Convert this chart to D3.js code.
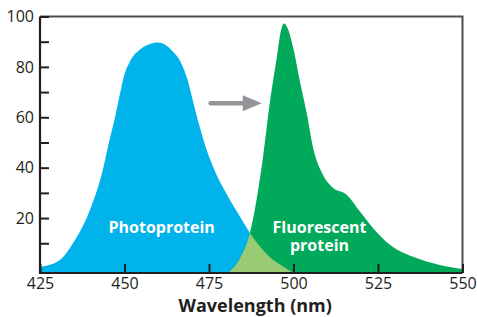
<!DOCTYPE html>
<html>
<head>
<meta charset="utf-8">
<script src="https://cdn.jsdelivr.net/npm/d3@7"></script>
<style>
  body { margin: 0; background: #fff; }
  text { font-family: "Open Sans", sans-serif; fill: #231f20; }
</style>
</head>
<body>
<div id="chart"></div>
<script>
// Emission spectra: photoprotein (blue) and fluorescent protein (green)
var wavelengths = [425, 430.9, 434.8, 439.8, 443.6, 445.4, 447.2, 448.7, 449.6, 451.6, 454.6, 457.3, 459.9, 462, 464.3, 467, 468.8, 470.3, 472.3, 473.8, 476.2, 480.3, 484.2, 487.1, 490, 493, 496.5, 500];
var photoprotein = [0.6, 3.4, 10.1, 23.3, 39.2, 50, 60, 69.5, 75, 82.1, 86.9, 89, 89.7, 88.8, 86.1, 80.9, 74.2, 66.2, 55.9, 49.1, 40.4, 29.4, 20.5, 14.1, 8.8, 4.5, 1.2, -1.8];

var gfpWavelengths = [480.6, 484.2, 487.1, 489.2, 491, 493, 495.1, 496.3, 497.2, 498.2, 499.9, 501.9, 504, 505.8, 508.7, 511.7, 515.8, 519.7, 523.5, 528.6, 535.4, 543.3, 550];
var fluorescent = [-1.8, 4.2, 14.1, 28.4, 44.3, 65.8, 84.1, 94.5, 97.2, 95.5, 87.7, 74.2, 61, 47.9, 37.2, 32, 29.2, 22.5, 16.1, 9.3, 4.6, 1.4, -0.2];

var xTicks = [425, 450, 475, 500, 525, 550];
var yTicks = [10, 20, 30, 40, 50, 60, 70, 80, 90, 100];
var yBase = -1.8;

var width = 477, height = 317;
var plotLeft = 40, plotRight = 462.5, plotTop = 16.5, plotBottom = 273;

var x = d3.scaleLinear().domain([425, 550]).range([plotLeft, plotRight]);
var y = d3.scaleLinear().domain([yBase, 100]).range([plotBottom, plotTop]);

var svg = d3.select("#chart").append("svg")
  .attr("width", width)
  .attr("height", height);

var blueData = wavelengths.map(function(w, i) { return {w: w, v: photoprotein[i]}; });
var greenData = gfpWavelengths.map(function(w, i) { return {w: w, v: fluorescent[i]}; });

var area = d3.area()
  .curve(d3.curveMonotoneX)
  .x(function(d) { return x(d.w); })
  .y0(y(yBase))
  .y1(function(d) { return y(Math.max(d.v, yBase)); });

// clip to the green spectrum, for the overlap
svg.append("clipPath").attr("id", "greenClip")
  .append("path").attr("d", area(greenData));

svg.append("path").attr("d", area(blueData)).attr("fill", "#00b3ea");
svg.append("path").attr("d", area(greenData)).attr("fill", "#00aa5a");
svg.append("path").attr("d", area(blueData))
  .attr("fill", "#98cb74")
  .attr("clip-path", "url(#greenClip)");

// arrow
var arrowY = y(65.6);
svg.append("line")
  .attr("x1", x(475.5)).attr("x2", x(486))
  .attr("y1", arrowY).attr("y2", arrowY)
  .attr("stroke", "#939598").attr("stroke-width", 4.5)
  .attr("stroke-linecap", "round");
svg.append("path")
  .attr("d", "M" + x(485) + "," + (arrowY - 8) + "L" + x(490.6) + "," + arrowY + "L" + x(485) + "," + (arrowY + 8) + "Z")
  .attr("fill", "#939598");

// labels on areas
svg.append("text")
  .attr("x", x(461)).attr("y", y(14.2))
  .attr("text-anchor", "middle")
  .style("font-weight", "bold").style("font-size", "16px")
  .style("fill", "#fff")
  .text("Photoprotein");
svg.append("text")
  .attr("x", x(507.7)).attr("y", y(14.2))
  .attr("text-anchor", "middle")
  .style("font-weight", "bold").style("font-size", "16px")
  .style("fill", "#fff")
  .text("Fluorescent");
svg.append("text")
  .attr("x", x(507.7)).attr("y", y(6.9))
  .attr("text-anchor", "middle")
  .style("font-weight", "bold").style("font-size", "16px")
  .style("fill", "#fff")
  .text("protein");

// frame top/right
svg.append("path")
  .attr("d", "M" + plotLeft + "," + plotTop + "H" + plotRight + "V" + plotBottom)
  .attr("fill", "none").attr("stroke", "#4d4d4d").attr("stroke-width", 2);

// y axis
var yAxis = svg.append("g")
  .attr("transform", "translate(" + plotLeft + ",0)")
  .call(d3.axisLeft(y).tickValues(yTicks).tickSizeInner(-9).tickSizeOuter(0).tickPadding(6)
    .tickFormat(function(d) { return d % 20 === 0 ? d : ""; }));
yAxis.select(".domain").remove();
yAxis.selectAll(".tick line").attr("stroke", "#231f20").attr("stroke-width", 2);
yAxis.selectAll(".tick text").style("font-size", "16px").style("font-family", "'Open Sans', sans-serif").attr("fill", "#231f20");

// x axis
var xAxis = svg.append("g")
  .attr("transform", "translate(0," + plotBottom + ")")
  .call(d3.axisBottom(x).tickValues(xTicks).tickSizeInner(-9).tickSizeOuter(0).tickPadding(5));
xAxis.select(".domain").remove();
xAxis.selectAll(".tick line").attr("stroke", "#231f20").attr("stroke-width", 2);
xAxis.selectAll(".tick text").style("font-size", "16px").style("font-family", "'Open Sans', sans-serif").attr("fill", "#231f20");

// axis lines
svg.append("path")
  .attr("d", "M" + plotLeft + "," + plotTop + "V" + plotBottom + "H" + plotRight)
  .attr("fill", "none").attr("stroke", "#231f20").attr("stroke-width", 2.2);

svg.append("text")
  .attr("x", (plotLeft + plotRight) / 2 + 4).attr("y", 312)
  .attr("text-anchor", "middle")
  .style("font-weight", "bold").style("font-size", "18px")
  .text("Wavelength (nm)");
</script>
</body>
</html>
